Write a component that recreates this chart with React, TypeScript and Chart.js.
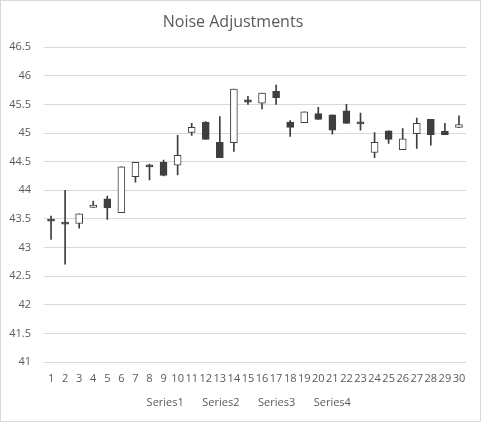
import React, { useEffect, useRef } from "react";
import { Chart, registerables } from "chart.js";

Chart.register(...registerables);

const days = Array.from({ length: 30 }, (_, i) => String(i + 1));
const openVals = [
  43.48, 43.43, 43.42, 43.7, 43.85, 43.61, 44.24, 44.42, 44.49, 44.44,
  45.01, 45.19, 44.84, 44.83, 45.58, 45.52, 45.73, 45.19, 45.18, 45.34,
  45.32, 45.39, 45.17, 44.66, 45.04, 44.71, 44.99, 45.24, 45.03, 45.1,
];
const highVals = [
  43.55, 44.0, 43.59, 43.81, 43.9, 44.41, 44.49, 44.46, 44.53, 44.96,
  45.17, 45.2, 45.29, 45.77, 45.64, 45.7, 45.84, 45.22, 45.37, 45.45,
  45.32, 45.5, 45.35, 45.01, 45.04, 45.08, 45.26, 45.24, 45.17, 45.3,
];
const lowVals = [
  43.14, 42.71, 43.34, 43.7, 43.49, 43.61, 44.14, 44.18, 44.25, 44.27,
  44.96, 44.89, 44.57, 44.68, 45.5, 45.42, 45.5, 44.94, 45.18, 45.24,
  44.98, 45.17, 45.05, 44.57, 44.82, 44.71, 44.73, 44.79, 44.97, 45.1,
];
const closeVals = [
  43.46, 43.41, 43.59, 43.74, 43.69, 44.41, 44.49, 44.41, 44.26, 44.61,
  45.1, 44.89, 44.57, 45.77, 45.54, 45.7, 45.62, 45.1, 45.37, 45.24,
  45.05, 45.17, 45.16, 44.84, 44.89, 44.9, 45.17, 44.97, 44.97, 45.15,
];
const legendNames = ["Series1", "Series2", "Series3", "Series4"];

const DARK = "#3f3f3f";
const GREY_TEXT = "#595959";
const FONT = "'Open Sans', sans-serif";

// thin grey chart border like the Excel chart frame
const frame = {
  id: "frame",
  afterDraw(chart: Chart) {
    const ctx = chart.ctx;
    ctx.save();
    ctx.strokeStyle = "#d9d9d9";
    ctx.lineWidth = 1;
    ctx.strokeRect(0.5, 0.5, 480, 421);
    ctx.restore();
  },
};

// Excel centres the legend a bit to the right of the canvas middle
const nudgeLegend = {
  id: "nudgeLegend",
  afterLayout(chart: any) {
    if (chart.legend) {
      chart.legend.left += 13;
      chart.legend.right += 13;
    }
  },
};

const CandleChart = () => {
  const canvasRef = useRef<HTMLCanvasElement | null>(null);

  useEffect(() => {
    if (!canvasRef.current) return;
    const ctx = canvasRef.current.getContext("2d");
    if (!ctx) return;

    const bodies = openVals.map((o, i) => [Math.min(o, closeVals[i]), Math.max(o, closeVals[i])]);
    const wicks = lowVals.map((l, i) => [l, highVals[i]]);
    const fills = openVals.map((o, i) => (closeVals[i] >= o ? "#ffffff" : DARK));

    const chart = new Chart(ctx, {
      type: "bar",
      data: {
        labels: days,
        datasets: [
          {
            label: "body",
            data: bodies as any,
            backgroundColor: fills,
            borderColor: DARK,
            borderWidth: 1,
            borderSkipped: false,
            barThickness: 7,
            minBarLength: 2,
            grouped: false,
          },
          {
            label: "wick",
            data: wicks as any,
            backgroundColor: DARK,
            borderWidth: 0,
            barThickness: 1,
            grouped: false,
          },
        ],
      },
      options: {
        animation: false,
        responsive: false,
        layout: { padding: { left: 0, right: 16, top: 0, bottom: 6 } },
        plugins: {
          title: {
            display: true,
            text: "Noise Adjustments",
            color: GREY_TEXT,
            font: { family: FONT, size: 16, weight: "normal" },
            padding: { top: 13, bottom: 15 },
          },
          legend: {
            position: "bottom",
            onClick: () => {},
            labels: {
              boxWidth: 0,
              padding: 13,
              color: GREY_TEXT,
              font: { family: FONT, size: 11 },
              generateLabels: () =>
                legendNames.map((name) => ({
                  text: name,
                  fillStyle: "rgba(0,0,0,0)",
                  strokeStyle: "rgba(0,0,0,0)",
                  lineWidth: 0,
                  hidden: false,
                  fontColor: GREY_TEXT,
                })),
            },
          },
          tooltip: { enabled: false },
        },
        scales: {
          x: {
            offset: true,
            grid: { display: false, drawTicks: false },
            border: { display: false },
            ticks: {
              color: GREY_TEXT,
              font: { family: FONT, size: 11 },
              autoSkip: false,
              maxRotation: 0,
              padding: 10,
            },
            afterFit: (scale: any) => {
              scale.height = 22;
            },
          },
          y: {
            min: 41,
            max: 46.5,
            grid: { color: "#d9d9d9", drawTicks: false },
            border: { display: false },
            ticks: {
              stepSize: 0.5,
              color: GREY_TEXT,
              font: { family: FONT, size: 11 },
              padding: 13,
              callback: (v: any) => String(Math.round(Number(v) * 10) / 10),
            },
            afterFit: (scale: any) => {
              scale.width = 44;
            },
          },
        },
      },
      plugins: [frame, nudgeLegend],
    });

    return () => {
      chart.destroy();
    };
  }, []);

  return <canvas ref={canvasRef} width={482} height={424} />;
};

export default function App() {
  return (
    <div style={{ position: "absolute", left: 0, top: 0, width: 482, height: 424, background: "#fff" }}>
      <CandleChart />
    </div>
  );
}
